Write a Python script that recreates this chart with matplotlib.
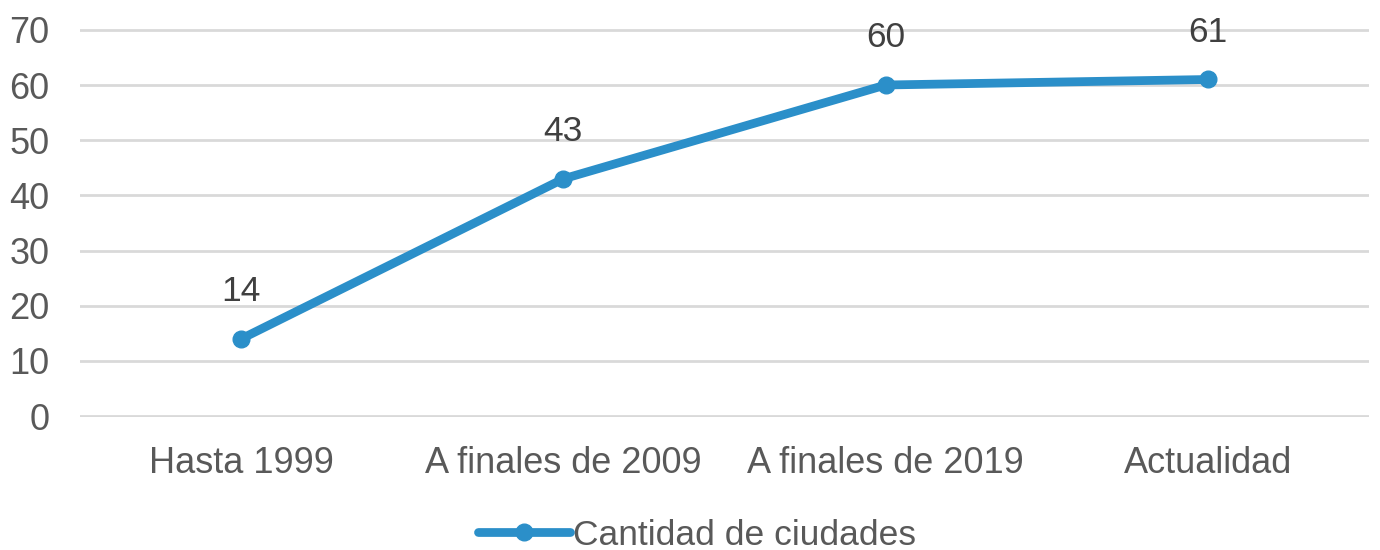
import matplotlib
matplotlib.use("Agg")
import matplotlib.pyplot as plt

categories = ["Hasta 1999", "A finales de 2009", "A finales de 2019", "Actualidad"]
values = [14, 43, 60, 61]
series_name = "Cantidad de ciudades"

plt.rcParams['font.family'] = ['Liberation Sans', 'DejaVu Sans']
text_color = "#595959"
line_color = "#2B8FC9"

fig = plt.figure(figsize=(13.8, 5.5), dpi=100)
ax = fig.add_axes([0.058, 0.2418, 0.934, 0.7055])

x = list(range(len(categories)))
ax.plot(x, values, color=line_color, lw=6.3, marker='o', ms=12,
        solid_capstyle='round', solid_joinstyle='round', label=series_name, zorder=3)
for xi, v in zip(x, values):
    ax.annotate(str(v), (xi, v), xytext=(0, 22), textcoords='offset points',
                ha='center', va='bottom', fontsize=25.5, color="#404040")

ax.set_xlim(-0.5, len(categories) - 0.5)
ax.set_ylim(-0.15, 70.15)
ax.set_yticks(range(0, 71, 10))
ax.set_xticks(x)
ax.set_xticklabels(categories)
ax.grid(axis='y', color="#D9D9D9", lw=2)
ax.set_axisbelow(True)
for s in ax.spines.values():
    s.set_visible(False)
ax.tick_params(axis='both', length=0, labelsize=26, labelcolor=text_color)
ax.tick_params(axis='y', pad=22)
ax.tick_params(axis='x', pad=21)

fig.legend(loc='center', bbox_to_anchor=(0.505, 0.027), frameon=False, fontsize=25.5,
           labelcolor=text_color, handlelength=2.6, handletextpad=0.1)

fig.savefig("out.png", dpi=100)
